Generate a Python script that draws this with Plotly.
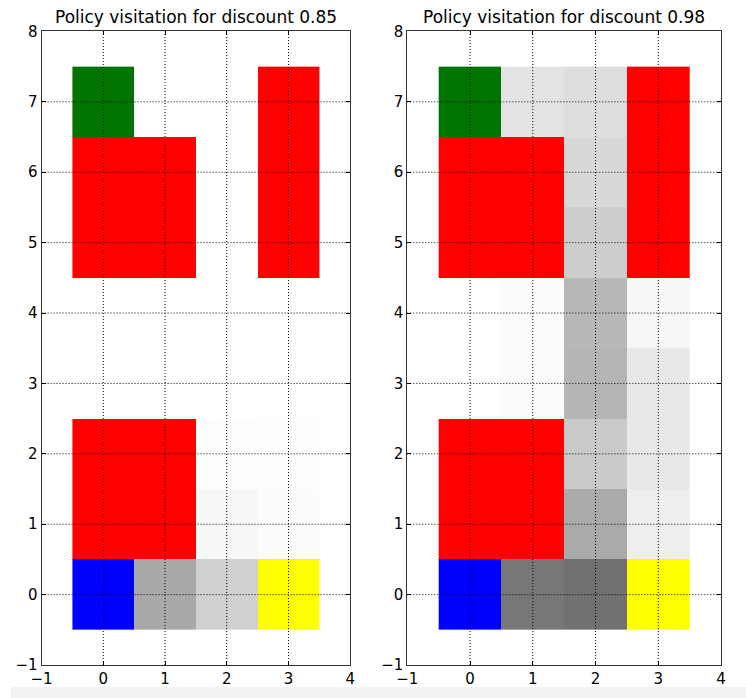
import plotly.graph_objects as go

# ---------------- data ----------------
COLS = [0, 1, 2, 3]
ROWS = [0, 1, 2, 3, 4, 5, 6, 7]
X_TICKS = [-1, 0, 1, 2, 3, 4]
Y_TICKS = [-1, 0, 1, 2, 3, 4, 5, 6, 7, 8]

# grid layout, written top row (y=7) first: G goal, W wall, B start, Y end, . free
GRID_LAYOUT = [
    "G..W",
    "WW.W",
    "WW.W",
    "....",
    "....",
    "WW..",
    "WW..",
    "B..Y",
]

TITLES = ["Policy visitation for discount 0.85", "Policy visitation for discount 0.98"]

# visitation intensity (0 = never, 1 = black), top row (y=7) first
VISIT_085 = [
    [0.00, 0.00, 0.000, 0.000],
    [0.00, 0.00, 0.000, 0.000],
    [0.00, 0.00, 0.000, 0.000],
    [0.00, 0.00, 0.000, 0.000],
    [0.00, 0.00, 0.000, 0.000],
    [0.00, 0.00, 0.008, 0.004],
    [0.00, 0.00, 0.031, 0.012],
    [0.00, 0.337, 0.184, 0.000],
]
VISIT_098 = [
    [0.00, 0.110, 0.130, 0.000],
    [0.00, 0.000, 0.153, 0.000],
    [0.00, 0.000, 0.196, 0.000],
    [0.00, 0.012, 0.278, 0.031],
    [0.00, 0.012, 0.290, 0.090],
    [0.00, 0.000, 0.208, 0.090],
    [0.00, 0.000, 0.333, 0.067],
    [0.00, 0.533, 0.557, 0.000],
]
VISITS = [VISIT_085, VISIT_098]

SPECIAL_CODES = {"W": 0, "G": 1, "B": 2, "Y": 3}
SPECIAL_COLORS = ["#ff0000", "#007400", "#0000ff", "#ffff00"]

# ---------------- figure ----------------
# the photographed page shows the figure inset by (AX, AY) px and scaled by S
AX, AY, S = 11.5, 9.5, 0.977
W = round((746 - AX) / S) + 12
H = round((698 - AY) / S) + 10


def px_x(p):
    return ((p - AX) / S) / W


def px_y(p):
    return 1 - ((p - AY) / S) / H


X_DOMAINS = [[px_x(42), px_x(350)], [px_x(407), px_x(720)]]
Y_DOMAIN = [px_y(667), px_y(32)]

fig = go.Figure()

disc_scale = []
n = len(SPECIAL_COLORS)
for i, c in enumerate(SPECIAL_COLORS):
    disc_scale.append([i / n, c])
    disc_scale.append([(i + 1) / n, c])

special_z = []
for row in reversed(GRID_LAYOUT):
    special_z.append([SPECIAL_CODES.get(ch) for ch in row])

for k in range(2):
    xa = "x" if k == 0 else "x2"
    ya = "y" if k == 0 else "y2"
    vis = list(reversed(VISITS[k]))
    fig.add_trace(go.Heatmap(
        x=COLS, y=ROWS, z=vis, zmin=0, zmax=1,
        colorscale=[[0, "#ffffff"], [1, "#000000"]],
        showscale=False, xaxis=xa, yaxis=ya, hoverinfo="skip",
    ))
    fig.add_trace(go.Heatmap(
        x=COLS, y=ROWS, z=special_z, zmin=-0.5, zmax=n - 0.5,
        colorscale=disc_scale, showscale=False,
        xaxis=xa, yaxis=ya, hoverinfo="skip",
    ))

axis_font = dict(family="DejaVu Sans", size=15, color="#000000")
common = dict(
    showgrid=False, zeroline=False, showline=True, linecolor="#333333",
    linewidth=1, mirror="ticks", ticks="inside", ticklen=4, tickcolor="#000000",
    tickfont=axis_font, layer="above traces", fixedrange=True,
)
fig.update_layout(
    xaxis=dict(domain=X_DOMAINS[0], range=[X_TICKS[0], X_TICKS[-1]], tickvals=X_TICKS, anchor="y", **common),
    yaxis=dict(domain=Y_DOMAIN, range=[Y_TICKS[0], Y_TICKS[-1]], tickvals=Y_TICKS, anchor="x", **common),
    xaxis2=dict(domain=X_DOMAINS[1], range=[X_TICKS[0], X_TICKS[-1]], tickvals=X_TICKS, anchor="y2", **common),
    yaxis2=dict(domain=Y_DOMAIN, range=[Y_TICKS[0], Y_TICKS[-1]], tickvals=Y_TICKS, anchor="x2", **common),
)

shapes = []
grid_line = dict(color="#000000", width=1, dash="1px,2px")
for k in range(2):
    xa = "x" if k == 0 else "x2"
    ya = "y" if k == 0 else "y2"
    for xv in X_TICKS[1:-1]:
        shapes.append(dict(type="line", xref=xa, yref=ya + " domain", x0=xv, x1=xv, y0=0, y1=1,
                           line=grid_line, layer="above"))
    for yv in Y_TICKS[1:-1]:
        shapes.append(dict(type="line", xref=xa + " domain", yref=ya, x0=0, x1=1, y0=yv, y1=yv,
                           line=grid_line, layer="above"))
# light band along the bottom edge of the reference picture
shapes.append(dict(type="rect", xref="paper", yref="paper", x0=0, x1=1, y0=0, y1=px_y(689),
                   fillcolor="#f2f2f2", line=dict(width=0), layer="below"))

annotations = []
for k in range(2):
    annotations.append(dict(
        text=TITLES[k], xref="paper", yref="paper",
        x=(X_DOMAINS[k][0] + X_DOMAINS[k][1]) / 2, y=px_y(18),
        xanchor="center", yanchor="middle", showarrow=False,
        font=dict(family="DejaVu Sans", size=17, color="#000000"),
    ))

fig.update_layout(
    width=W, height=H, margin=dict(l=0, r=0, t=0, b=0),
    paper_bgcolor="#ffffff", plot_bgcolor="#ffffff",
    shapes=shapes, annotations=annotations, showlegend=False,
)

fig.write_html(
    "out.html",
    config={"displayModeBar": False, "staticPlot": True},
    post_script="document.body.style.margin='0';document.body.style.padding='0';"
                "document.body.style.overflow='hidden';",
)
